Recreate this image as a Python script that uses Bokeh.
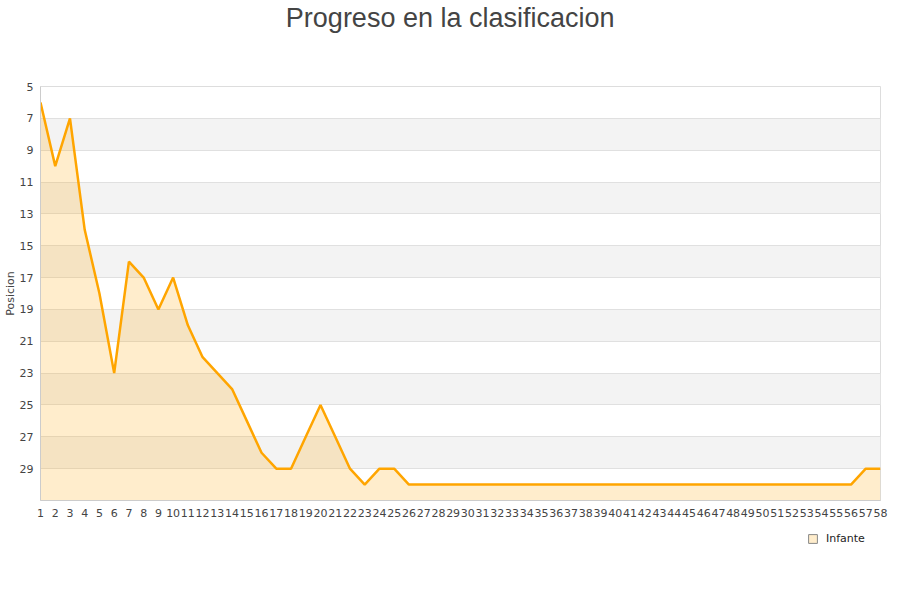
from bokeh.plotting import figure
from bokeh.models import Range1d, FixedTicker, Legend, LegendItem, ColumnDataSource, Label
from bokeh.layouts import column
from bokeh.embed import file_html
from bokeh.resources import INLINE

jornadas = list(range(1, 59))
posicion = [6, 10, 7, 14, 18, 23, 16, 17, 19, 17,
            20, 22, 23, 24, 26, 28, 29, 29, 27, 25,
            27, 29, 30, 29, 29, 30, 30, 30, 30, 30,
            30, 30, 30, 30, 30, 30, 30, 30, 30, 30,
            30, 30, 30, 30, 30, 30, 30, 30, 30, 30,
            30, 30, 30, 30, 30, 30, 29, 29]
y_ticks = list(range(5, 30, 2))
y_bottom = 31
y_top = 5
title_text = "Progreso en la clasificacion"
serie = "Infante"
y_label = "Posicion"

src = ColumnDataSource(dict(x=jornadas, y=posicion, base=[y_bottom] * len(jornadas)))
x_rng = Range1d(1, 58)

# title strip (y range in pixels from the top)
p0 = figure(width=900, height=80, output_backend="svg", toolbar_location=None,
            x_range=x_rng, y_range=Range1d(80, 0),
            x_axis_location=None, y_axis_location=None, min_border=0)
p0.outline_line_color = None
p0.grid.grid_line_color = None
p0.add_layout(Label(x=28.8, y=17, text=title_text, text_align="center",
                    text_baseline="alphabetic", text_font="Liberation Sans",
                    text_font_size="27px", text_color="#444444"))

p = figure(width=900, height=445, output_backend="svg", toolbar_location=None,
           x_range=x_rng, y_range=Range1d(y_bottom, y_top),
           min_border_left=40, min_border_right=20, min_border_top=6, min_border_bottom=25)

p.background_fill_color = "white"
p.outline_line_color = "#dddddd"

p.xgrid.grid_line_color = None
p.ygrid.grid_line_color = "#e0e0e0"
p.ygrid.band_fill_color = "#f3f3f3"
p.ygrid.band_fill_alpha = 1.0

p.varea(x="x", y1="y", y2="base", source=src, fill_color="#FFA500", fill_alpha=0.2)
p.line(x="x", y="y", source=src, line_color="#FFA500", line_width=2.5)

p.yaxis.ticker = FixedTicker(ticks=y_ticks)
p.xaxis.ticker = FixedTicker(ticks=jornadas)
for ax in (p.xaxis, p.yaxis):
    ax.major_tick_line_color = None
    ax.minor_tick_line_color = None
    ax.axis_line_color = "#cccccc"
    ax.major_label_text_font = "DejaVu Sans"
    ax.major_label_text_font_size = "11px"
    ax.major_label_text_color = "#444444"
    ax.major_tick_out = 0
    ax.major_tick_in = 0
p.xaxis.major_label_standoff = 8
p.yaxis.major_label_standoff = 7
p.yaxis.axis_label = y_label
p.yaxis.axis_label_text_font = "DejaVu Sans"
p.yaxis.axis_label_text_font_size = "11px"
p.yaxis.axis_label_text_font_style = "normal"
p.yaxis.axis_label_text_color = "#444444"
p.yaxis.axis_label_standoff = 0

# legend strip below the chart
p2 = figure(width=900, height=75, output_backend="svg", toolbar_location=None,
            x_range=Range1d(0, 1), y_range=Range1d(0, 1),
            x_axis_location=None, y_axis_location=None, min_border=0)
p2.outline_line_color = None
p2.grid.grid_line_color = None
legend_r = p2.quad(left=jornadas[:1], right=jornadas[1:2], top=posicion[:1], bottom=posicion[1:2],
                   fill_color="#FFEDCC", line_color="#888888", visible=False)
legend = Legend(items=[LegendItem(label=serie, renderers=[legend_r])],
                location=(767, 55), orientation="horizontal",
                glyph_width=11, glyph_height=11, label_standoff=8, padding=0, margin=0,
                border_line_color=None, background_fill_alpha=0,
                label_text_font="DejaVu Sans", label_text_font_size="11px",
                label_text_color="#222222")
p2.add_layout(legend, "center")

layout = column(p0, p, p2, spacing=0)
open("out.html", "w").write(file_html(layout, INLINE))
